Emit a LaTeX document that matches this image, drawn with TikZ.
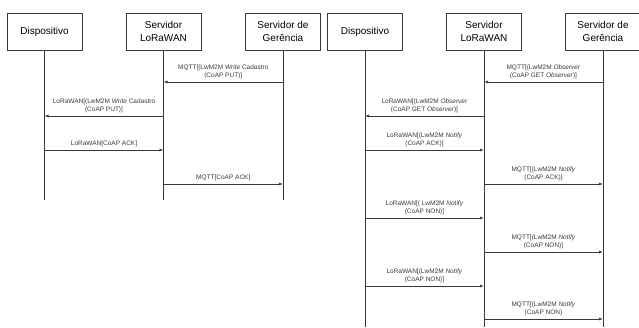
\documentclass[tikz,border=0pt]{standalone}
\usepackage{fontspec}
\setmainfont{Liberation Sans}
\usetikzlibrary{arrows.meta,calc}
\definecolor{ln}{HTML}{3A3A3A}
\tikzset{
  actor/.style={draw=ln, line width=0.8pt, minimum width=75pt, minimum height=37pt, inner sep=1pt, align=center, font=\fontsize{10}{12.5}\selectfont, fill=white},
  life/.style={draw=ln, line width=0.8pt},
  msg/.style={draw=ln, line width=0.8pt, -{Latex[length=4pt,width=3pt]}},
  lbl/.style={anchor=south, inner sep=1pt, yshift=1.5pt, align=center, font=\fontsize{6.5}{8.5}\selectfont, text=ln}
}
\begin{document}
\begin{tikzpicture}[x=1pt,y=-1pt]
\useasboundingbox (0,0) rectangle (639,327);
% left diagram
\node[actor] (D1) at (44.5,31.5) {Dispositivo};
\node[actor] (L1) at (163.5,31.5) {Servidor\\LoRaWAN};
\node[actor] (G1) at (283,31.5) {Servidor de\\Gerência};
\coordinate (D1e) at (D1.south |- 0,200);
\coordinate (L1e) at (L1.south |- 0,200);
\coordinate (G1e) at (G1.south |- 0,200);
\draw[life] (D1.south) -- (D1e);
\draw[life] (L1.south) -- (L1e);
\draw[life] (G1.south) -- (G1e);
\draw[msg] (G1.south |- 0,82) -- node[lbl] {MQTT[(LwM2M \textit{Write} Cadastro\\(CoAP PUT)]} (L1.south |- 0,82);
\draw[msg] (L1.south |- 0,116) -- node[lbl] {LoRaWAN[(LwM2M \textit{Write} Cadastro\\(CoAP PUT)]} (D1.south |- 0,116);
\draw[msg] (D1.south |- 0,150) -- node[lbl] {LoRaWAN[CoAP ACK]} (L1.south |- 0,150);
\draw[msg] (L1.south |- 0,184) -- node[lbl] {MQTT[CoAP ACK]} (G1.south |- 0,184);
% right diagram
\node[actor] (D2) at (365,31.5) {Dispositivo};
\node[actor] (L2) at (484,31.5) {Servidor\\LoRaWAN};
\node[actor] (G2) at (603,31.5) {Servidor de\\Gerência};
\coordinate (D2e) at (D2.south |- 0,327);
\coordinate (L2e) at (L2.south |- 0,327);
\coordinate (G2e) at (G2.south |- 0,327);
\draw[life] (D2.south) -- (D2e);
\draw[life] (L2.south) -- (L2e);
\draw[life] (G2.south) -- (G2e);
\draw[msg] (G2.south |- 0,82) -- node[lbl] {MQTT[(LwM2M \textit{Observer}\\(CoAP GET \textit{Observer})]} (L2.south |- 0,82);
\draw[msg] (L2.south |- 0,116) -- node[lbl] {LoRaWAN[(LwM2M \textit{Observer}\\(CoAP GET \textit{Observer})]} (D2.south |- 0,116);
\draw[msg] (D2.south |- 0,150) -- node[lbl] {LoRaWAN[(LwM2M \textit{Notify}\\(CoAP ACK)]} (L2.south |- 0,150);
\draw[msg] (L2.south |- 0,184) -- node[lbl] {MQTT[(LwM2M \textit{Notify}\\(CoAP ACK)]} (G2.south |- 0,184);
\draw[msg] (D2.south |- 0,218) -- node[lbl] {LoRaWAN[( LwM2M \textit{Notify}\\(CoAP NON)]} (L2.south |- 0,218);
\draw[msg] (L2.south |- 0,252) -- node[lbl] {MQTT[(LwM2M \textit{Notify}\\(CoAP NON)]} (G2.south |- 0,252);
\draw[msg] (D2.south |- 0,286) -- node[lbl] {LoRaWAN[(LwM2M \textit{Notify}\\(CoAP NON)]} (L2.south |- 0,286);
\draw[msg] (L2.south |- 0,319) -- node[lbl] {MQTT[(LwM2M \textit{Notify}\\(CoAP NON)} (G2.south |- 0,319);
\end{tikzpicture}
\end{document}
